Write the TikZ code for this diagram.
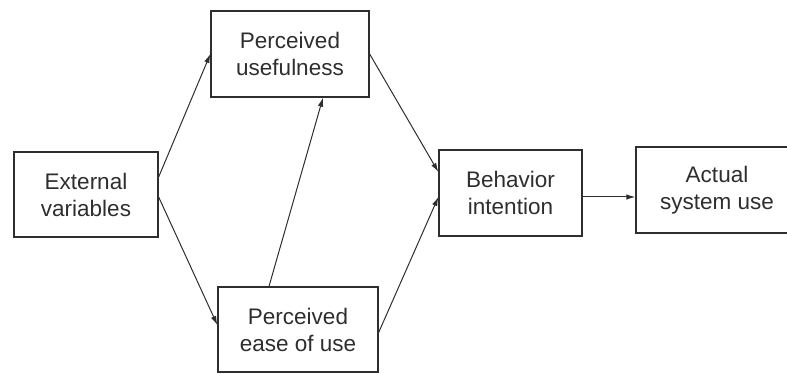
\documentclass[tikz,border=0pt]{standalone}
\usepackage{fontspec}
\setmainfont{Liberation Sans}
\usetikzlibrary{arrows.meta}
\definecolor{ink}{HTML}{2E2E2E}
\begin{document}
\begin{tikzpicture}[x=1pt,y=-1pt,
  boxnode/.style={draw=ink, line width=1.3pt, rectangle, inner sep=0pt, align=center,
    font=\fontsize{22.5}{27}\selectfont, text=ink},
  conn/.style={draw=ink, line width=1pt, -{Latex[length=9pt,width=5.5pt]}}]
\useasboundingbox (0,0) rectangle (787,374);
\begin{scope}
\clip (0,0) rectangle (787,374);
\node[boxnode, minimum width=144pt, minimum height=85pt] (ext) at (86,194.5) {External\\variables};
\node[boxnode, minimum width=158pt, minimum height=86pt] (pu) at (290,54) {Perceived\\usefulness};
\node[boxnode, minimum width=160pt, minimum height=85pt] (pe) at (298,329.5) {Perceived\\ease of use};
\node[boxnode, minimum width=143pt, minimum height=86pt] (bi) at (510.5,193) {Behavior\\intention};
\node[boxnode, minimum width=162pt, minimum height=86pt] (asu) at (717,190) {Actual\\system use};
\draw[conn] ([yshift=17.5pt]ext.east) -- (pu.west);
\draw[conn] ([yshift=-2.5pt]ext.east) -- ([yshift=4.5pt]pe.west);
\draw[conn] ([xshift=-29pt]pe.north) -- ([xshift=33pt]pu.south);
\draw[conn] (pu.east) -- ([yshift=21pt]bi.west);
\draw[conn] ([yshift=-3pt]pe.east) -- ([yshift=-4pt]bi.west);
\draw[conn] ([yshift=-4pt]bi.east) coordinate (bo) -- (asu.west |- bo);
\end{scope}
\end{tikzpicture}
\end{document}
